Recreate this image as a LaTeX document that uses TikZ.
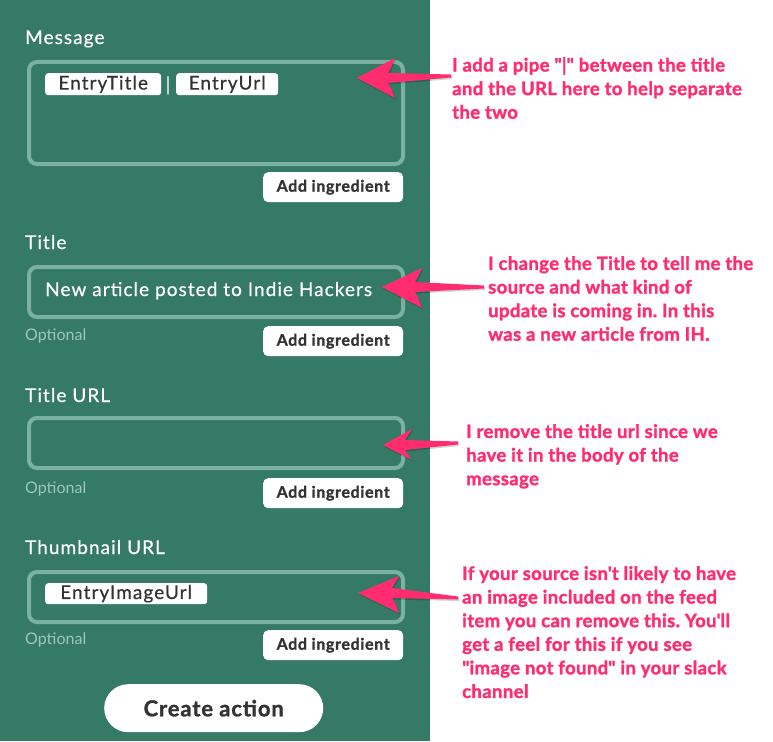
\documentclass[tikz,border=0pt]{standalone}
\usepackage{fontspec}
\setmainfont{Lato}
\newfontfamily\uifont{Lato}[LetterSpace=5.5, FakeBold=0.5]
\newfontfamily\btnfont{Lato}[BoldFeatures={FakeBold=1.2, LetterSpace=4}]
\newfontfamily\notefont{Lato}[BoldFeatures={FakeBold=1.5, LetterSpace=2}]
\usetikzlibrary{calc}
\frenchspacing
\definecolor{panel}{HTML}{357A66}
\definecolor{fieldline}{HTML}{7AB1A1}
\definecolor{opttext}{HTML}{9CC7BA}
\definecolor{ink}{HTML}{333333}
\definecolor{hot}{HTML}{FF2D6F}
\newcommand\hotarrow[5]{%
  \fill[black, opacity=0.18] ($(#2)+(1,1.5)$) -- ($(#2)+(#3+1,-#4+1.5)$) .. controls ($(#2)+(#3-3,-8.5)$) .. ($(#2)+(#3-6,-3.5)$) -- ($(#1)+(1,0)$)
    -- ($(#1)+(1,3)$) -- ($(#2)+(#3-6,6.5)$) .. controls ($(#2)+(#3-3,11.5)$) .. ($(#2)+(#3+1,#5+1.5)$) -- cycle;
  \fill[hot] (#2) -- ($(#2)+(#3,-#4)$) .. controls ($(#2)+(#3-4,-10)$) .. ($(#2)+(#3-7,-5)$) -- ($(#1)+(0,-1.5)$)
    -- ($(#1)+(0,1.5)$) -- ($(#2)+(#3-7,5)$) .. controls ($(#2)+(#3-4,10)$) .. ($(#2)+(#3,#5)$) -- cycle;}
\begin{document}
\begin{tikzpicture}[x=1pt,y=-1pt,
  fieldlabel/.style={anchor=base west, inner sep=0, text=white, font=\uifont\fontsize{19}{21}\selectfont},
  optlabel/.style={anchor=base west, inner sep=0, text=opttext, font=\fontsize{16}{18}\selectfont},
  field/.style={draw=fieldline, line width=4pt, rounded corners=8pt, anchor=north west, minimum width=374pt, inner sep=0},
  pill/.style={fill=white, rounded corners=3pt, text=ink, font=\uifont\fontsize{19}{21}\selectfont, inner sep=0, anchor=north west, minimum height=22pt},
  addbtn/.style={fill=white, rounded corners=5pt, text=ink, font=\btnfont\bfseries\fontsize{16}{18}\selectfont, inner sep=0, anchor=north west, minimum width=140pt, minimum height=30pt},
  note/.style={anchor=north west, inner sep=0, text=hot, align=left, font=\notefont\bfseries\fontsize{18.5}{23.6}\selectfont},
]
\useasboundingbox (0,0) rectangle (773,741);
\fill[white] (0,0) rectangle (773,741);
\fill[panel] (0,0) rectangle (430,741);

% Message
\node[fieldlabel] (lmsg) at (25,44) {Message};
\node[field, minimum height=102pt] (fmsg) at (27,60) {};
\node[pill, minimum width=116pt] (p1) at (45,73) {EntryTitle};
\node[anchor=base, inner sep=0, text=white, font=\uifont\fontsize{19}{21}\selectfont] (pipe) at (168,91) {|};
\node[pill, minimum width=102pt] (p2) at (176,73) {EntryUrl};
\node[addbtn] (b1) at (263,172) {Add ingredient};

% Title
\node[fieldlabel] (ltitle) at (25,249) {Title};
\node[field, minimum height=50pt] (ftitle) at (27,265) {};
\node[anchor=base west, inner sep=0, text=white, font=\uifont\fontsize{19}{21}\selectfont] (ttext) at (45,296) {New article posted to Indie Hackers};
\node[optlabel] (o1) at (25,340) {Optional};
\node[addbtn] (b2) at (263,326) {Add ingredient};

% Title URL
\node[fieldlabel] (lurl) at (25,402) {Title URL};
\node[field, minimum height=50pt] (furl) at (27,416) {};
\node[optlabel] (o2) at (25,493) {Optional};
\node[addbtn] (b3) at (263,478) {Add ingredient};

% Thumbnail URL
\node[fieldlabel] (lthumb) at (25,554) {Thumbnail URL};
\node[field, minimum height=50pt] (fthumb) at (27,570) {};
\node[pill, minimum width=162pt, minimum height=21pt] (p3) at (45,583) {EntryImageUrl};
\node[optlabel] (o3) at (25,644) {Optional};
\node[addbtn] (b4) at (263,630) {Add ingredient};

% Create action
\node[fill=white, rounded corners=24pt, anchor=north west, minimum width=219pt, minimum height=48pt, inner sep=0, text=ink, font=\btnfont\bfseries\fontsize{22}{24}\selectfont] (create) at (104,684) {Create action};

% Notes
\node[note] (n1) at (452,57) {I add a pipe \textquotedbl|\textquotedbl{} between the title\\and the URL here to help separate\\the two};
\node[note] (n2) at (488,256) {I change the Title to tell me the\\source and what kind of\\update is coming in. In this\\was a new article from IH.};
\node[note] (n3) at (466,424) {I remove the title url since we\\have it in the body of the\\message};
\node[note] (n4) at (462,566) {If your source isn\textquotesingle t likely to have\\an image included on the feed\\item you can remove this. You\textquotesingle ll\\get a feel for this if you see\\\textquotedbl image not found\textquotedbl{} in your slack\\channel};

% Arrows
\coordinate (t1) at (451,76); \coordinate (h1) at (357,78);
\coordinate (t2) at (484,287); \coordinate (h2) at (382,287);
\coordinate (t3) at (458,443); \coordinate (h3) at (383,445);
\coordinate (t4) at (458,598); \coordinate (h4) at (358,593);
\hotarrow{t1}{h1}{38}{20}{20}
\hotarrow{t2}{h2}{40}{19}{21}
\hotarrow{t3}{h3}{29}{16}{15}
\hotarrow{t4}{h4}{41}{17}{20}
\end{tikzpicture}
\end{document}
